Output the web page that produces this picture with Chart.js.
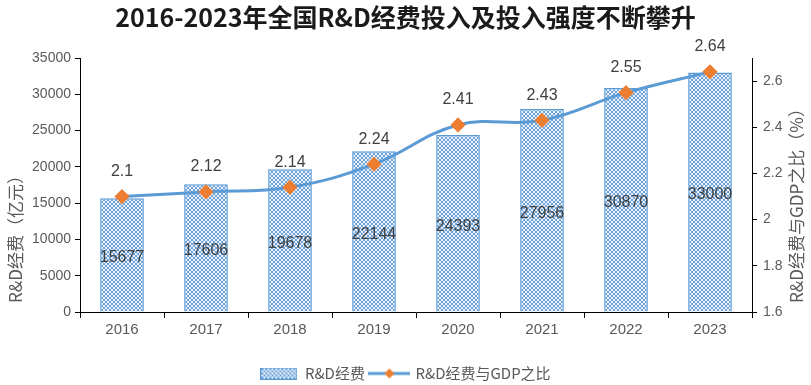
<!DOCTYPE html>
<html>
<head>
<meta charset="utf-8">
<script src="https://cdn.jsdelivr.net/npm/chart.js@4.4.0/dist/chart.umd.min.js"></script>
<style>
  html, body { margin: 0; padding: 0; background: #fff; }
</style>
</head>
<body>
<canvas id="rdChart" width="811" height="385"></canvas>
<script>
// data
const years = ['2016', '2017', '2018', '2019', '2020', '2021', '2022', '2023'];
const rdSpend = [15677, 17606, 19678, 22144, 24393, 27956, 30870, 33000]; // 亿元
const rdRatio = [2.1, 2.12, 2.14, 2.24, 2.41, 2.43, 2.55, 2.64];          // %
const spendAxis = { min: 0, max: 35000, step: 5000 };
const ratioAxis = { min: 1.6, max: 2.7, step: 0.2 };

const blue = '#5b9bd5';
const orange = '#ed7d31';
const grey = '#595959';
const cjk = '"Noto Sans CJK SC", sans-serif';
const latin = '"Liberation Sans", Arial, sans-serif';

function hatchTile() {
    const c = document.createElement('canvas');
    c.width = 4; c.height = 4;
    const g = c.getContext('2d');
    g.fillStyle = '#eaf2fb';
    g.fillRect(0, 0, 4, 4);
    g.fillStyle = '#6fa3d8';
    for (let i = 0; i < 4; i++) {
        g.fillRect(i, i, 1, 1);
        g.fillRect(3 - i, i, 1, 1);
    }
    return c;
}

const tile = hatchTile();
const mainCtx = document.getElementById('rdChart').getContext('2d');
const hatch = mainCtx.createPattern(tile, 'repeat');

// legend symbols
function barSymbol() {
    const c = document.createElement('canvas');
    c.width = 37; c.height = 12;
    const g = c.getContext('2d');
    g.fillStyle = g.createPattern(tile, 'repeat');
    g.fillRect(0.5, 0.5, 36, 11);
    g.strokeStyle = blue;
    g.lineWidth = 1;
    g.strokeRect(0.5, 0.5, 36, 11);
    return c;
}

function lineSymbol() {
    const c = document.createElement('canvas');
    c.width = 42; c.height = 12;
    const g = c.getContext('2d');
    g.strokeStyle = blue;
    g.lineWidth = 3;
    g.beginPath(); g.moveTo(0, 6); g.lineTo(42, 6); g.stroke();
    g.fillStyle = orange;
    g.beginPath();
    g.moveTo(21, 1); g.lineTo(26, 6); g.lineTo(21, 11); g.lineTo(16, 6);
    g.closePath(); g.fill();
    return c;
}

// value labels + rotated axis titles
const labelPlugin = {
    id: 'labelPlugin',
    afterDatasetsDraw(chart) {
        const ctx = chart.ctx;
        ctx.save();
        ctx.fillStyle = '#404040';
        ctx.textAlign = 'center';
        ctx.textBaseline = 'middle';
        ctx.font = '16px ' + latin;
        // dataset 1 = bars, dataset 0 = line
        chart.getDatasetMeta(1).data.forEach((bar, i) => {
            ctx.fillText(String(rdSpend[i]), bar.x, (bar.y + bar.base) / 2 + 3);
        });
        chart.getDatasetMeta(0).data.forEach((pt, i) => {
            ctx.fillText(String(rdRatio[i]), pt.x, pt.y - 25);
        });

        ctx.fillStyle = grey;
        ctx.font = '17px ' + cjk;
        ctx.textAlign = 'left';
        ctx.save();
        ctx.translate(16, 303);
        ctx.rotate(-Math.PI / 2);
        ctx.fillText('R&D经费（亿元）', 0, 0);
        ctx.restore();
        ctx.save();
        ctx.translate(797, 303);
        ctx.rotate(-Math.PI / 2);
        ctx.fillText('R&D经费与GDP之比（%）', 0, 0);
        ctx.restore();
        ctx.restore();
    }
};

new Chart(mainCtx, {
    data: {
        labels: years,
        datasets: [{
            type: 'line',
            label: 'R&D经费与GDP之比',
            data: rdRatio,
            yAxisID: 'y1',
            borderColor: blue,
            borderWidth: 3,
            tension: 0.4,
            pointStyle: 'rectRot',
            pointRadius: 5.5,
            pointBackgroundColor: orange,
            pointBorderColor: orange,
            order: 0
        }, {
            type: 'bar',
            label: 'R&D经费',
            data: rdSpend,
            yAxisID: 'y',
            backgroundColor: hatch,
            borderColor: blue,
            borderWidth: 1.5,
            categoryPercentage: 1,
            barPercentage: 0.52,
            order: 1
        }]
    },
    options: {
        responsive: false,
        animation: false,
        events: [],
        layout: { padding: { top: 0, bottom: -6, left: 0, right: 0 } },
        plugins: {
            title: {
                display: true,
                text: '2016-2023年全国R&D经费投入及投入强度不断攀升',
                color: '#1a1a1a',
                font: { family: cjk, size: 25, weight: 'bold' },
                padding: { top: 2, bottom: 26 }
            },
            legend: {
                position: 'bottom',
                labels: {
                    usePointStyle: true,
                    pointStyleWidth: 37,
                    boxHeight: 12,
                    padding: 6,
                    color: grey,
                    font: { family: cjk, size: 15 },
                    generateLabels: () => [
                        { text: 'R&D经费', pointStyle: barSymbol(), fontColor: grey, lineWidth: 0, strokeStyle: 'rgba(0,0,0,0)', fillStyle: 'rgba(0,0,0,0)', datasetIndex: 1 },
                        { text: 'R&D经费与GDP之比', pointStyle: lineSymbol(), fontColor: grey, lineWidth: 0, strokeStyle: 'rgba(0,0,0,0)', fillStyle: 'rgba(0,0,0,0)', datasetIndex: 0 }
                    ]
                }
            },
            tooltip: { enabled: false }
        },
        scales: {
            x: {
                offset: true,
                grid: { drawOnChartArea: false, tickLength: 6, color: '#000' },
                border: { color: '#000', width: 1 },
                ticks: { color: grey, font: { family: latin, size: 15 }, padding: 3 },
                afterFit: s => { s.height += 18; }
            },
            y: {
                position: 'left',
                min: spendAxis.min,
                max: spendAxis.max,
                grid: { drawOnChartArea: false, tickLength: 5, color: '#000' },
                border: { color: '#000', width: 1 },
                ticks: {
                    stepSize: spendAxis.step,
                    color: grey,
                    font: { family: latin, size: 14 },
                    padding: 4,
                    callback: v => String(v)
                },
                afterFit: s => { s.width = 80; }
            },
            y1: {
                position: 'right',
                min: ratioAxis.min,
                max: ratioAxis.max,
                grid: { drawOnChartArea: false, tickLength: 5, color: '#000' },
                border: { color: '#000', width: 1 },
                ticks: {
                    stepSize: ratioAxis.step,
                    includeBounds: false,
                    color: grey,
                    font: { family: latin, size: 14 },
                    padding: 6,
                    callback: v => String(+v.toFixed(1))
                },
                afterFit: s => { s.width = 59; }
            }
        }
    },
    plugins: [labelPlugin]
});
</script>
</body>
</html>
